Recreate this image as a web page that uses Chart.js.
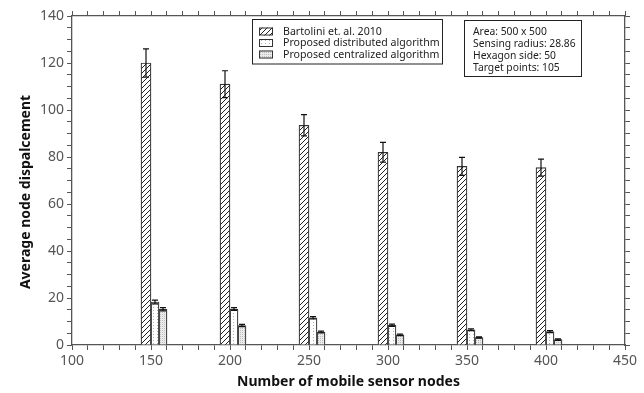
<!DOCTYPE html>
<html>
<head>
<meta charset="utf-8">
<script src="https://cdn.jsdelivr.net/npm/chart.js@4.4.1/dist/chart.umd.min.js"></script>
<style>
  html, body { margin: 0; padding: 0; background: #fff; }
  #wrap { width: 644px; height: 393px; position: relative; }
</style>
</head>
<body>
<div id="wrap"><canvas id="c"></canvas></div>
<script>
// Mean node displacement (with error half-widths) per network size
const nodeCounts = [150, 200, 250, 300, 350, 400];
const bartolini = [120, 111, 93.5, 82, 76, 75.5];
const bartoliniErr = [6, 5.7, 4.5, 4.2, 3.8, 3.6];
const distributed = [18.3, 15.3, 11.6, 8.4, 6.5, 5.7];
const distributedErr = [0.8, 0.6, 0.5, 0.5, 0.4, 0.4];
const centralized = [15.2, 8.3, 5.5, 4.3, 3.2, 2.3];
const centralizedErr = [0.7, 0.5, 0.4, 0.3, 0.3, 0.3];

const seriesNames = ['Bartolini et. al. 2010', 'Proposed distributed algorithm', 'Proposed centralized algorithm'];
const infoLines = ['Area: 500 x 500', 'Sensing radius: 28.86', 'Hexagon side: 50', 'Target points: 105'];
const xTitle = 'Number of mobile sensor nodes';
const yTitle = 'Average node dispalcement';

const FONT = '"Noto Sans", "Open Sans", sans-serif';
const AXIS_COLOR = '#555';

function makePattern(w, h, draw) {
  const c = document.createElement('canvas');
  c.width = w; c.height = h;
  const g = c.getContext('2d');
  draw(g, w, h);
  return g.createPattern(c, 'repeat');
}

// diagonal "/" hatching
const hatchFill = makePattern(5, 5, (g, w, h) => {
  g.fillStyle = '#fff'; g.fillRect(0, 0, w, h);
  g.strokeStyle = '#222'; g.lineWidth = 1;
  g.beginPath();
  g.moveTo(-1, h + 1); g.lineTo(w + 1, -1);
  g.moveTo(-1, 1); g.lineTo(1, -1);
  g.moveTo(w - 1, h + 1); g.lineTo(w + 1, h - 1);
  g.stroke();
});
// sparse dots
const sparseDots = makePattern(4, 3, (g, w, h) => {
  g.fillStyle = '#fff'; g.fillRect(0, 0, w, h);
  g.fillStyle = '#b0b0b0'; g.fillRect(1, 1, 1, 1);
});
// dense grey dots
const denseDots = makePattern(2, 2, (g, w, h) => {
  g.fillStyle = '#ececec'; g.fillRect(0, 0, w, h);
  g.fillStyle = '#bdbdbd'; g.fillRect(0, 0, 1, 1);
});

const fills = [hatchFill, sparseDots, denseDots];

function points(values) {
  return nodeCounts.map((n, i) => ({ x: n, y: values[i] }));
}

const errorBars = {
  id: 'errorBars',
  afterDatasetsDraw(chart) {
    const ctx = chart.ctx;
    const ys = chart.scales.y;
    chart.data.datasets.forEach((ds, di) => {
      if (!ds.errors) return;
      const meta = chart.getDatasetMeta(di);
      meta.data.forEach((bar, i) => {
        const v = ds.data[i].y, e = ds.errors[i];
        const top = ys.getPixelForValue(v + e);
        const bot = ys.getPixelForValue(v - e);
        const cap = 3;
        ctx.save();
        ctx.strokeStyle = '#111';
        ctx.lineWidth = 1.2;
        ctx.beginPath();
        ctx.moveTo(bar.x, top); ctx.lineTo(bar.x, bot);
        ctx.moveTo(bar.x - cap, top); ctx.lineTo(bar.x + cap, top);
        ctx.moveTo(bar.x - cap, bot); ctx.lineTo(bar.x + cap, bot);
        ctx.stroke();
        ctx.restore();
      });
    });
  }
};

const annotations = {
  id: 'annotations',
  afterDraw(chart) {
    const ctx = chart.ctx;
    const area = chart.chartArea;
    ctx.save();

    // legend box
    ctx.fillStyle = '#fff';
    ctx.fillRect(252, 19.5, 190, 44.5);
    ctx.strokeStyle = '#222';
    ctx.lineWidth = 1;
    ctx.strokeRect(252.5, 19.5, 190, 44.5);
    const rowsY = [31.5, 43, 54.5];
    ctx.font = '10.6px ' + FONT;
    ctx.textBaseline = 'middle';
    ctx.textAlign = 'left';
    seriesNames.forEach((name, i) => {
      ctx.fillStyle = fills[i];
      ctx.fillRect(259, rowsY[i] - 4, 14, 8);
      ctx.strokeStyle = '#333';
      ctx.strokeRect(259.5, rowsY[i] - 3.5, 13, 7);
      ctx.fillStyle = '#222';
      ctx.fillText(name, 283, rowsY[i]);
    });

    // parameter box
    ctx.fillStyle = '#fff';
    ctx.fillRect(464.5, 20.5, 117, 56);
    ctx.strokeStyle = '#222';
    ctx.strokeRect(464.5, 20.5, 117, 56);
    ctx.fillStyle = '#222';
    ctx.font = '10.3px ' + FONT;
    infoLines.forEach((t, i) => ctx.fillText(t, 473, 31.8 + i * 12.2));

    // axis titles
    ctx.fillStyle = '#111';
    ctx.font = 'bold 14px ' + FONT;
    ctx.textAlign = 'center';
    ctx.fillText(xTitle, (area.left + area.right) / 2, 382);
    ctx.translate(26, 192);
    ctx.rotate(-Math.PI / 2);
    ctx.fillText(yTitle, 0, 0);
    ctx.restore();
  }
};

function axis(position, min, max, step, major, showLabels, size) {
  const horizontal = position === 'top' || position === 'bottom';
  return {
    type: 'linear',
    position,
    min, max,
    offset: false,
    afterFit(s) { if (horizontal) s.height = size; else s.width = size; },
    grid: { drawOnChartArea: false, offset: false, tickLength: 5, color: AXIS_COLOR, tickColor: AXIS_COLOR },
    border: { display: true, color: AXIS_COLOR, width: 1.3 },
    ticks: {
      display: showLabels,
      stepSize: step,
      autoSkip: false,
      maxRotation: 0,
      padding: 3,
      color: AXIS_COLOR,
      font: { family: FONT, size: 14 },
      callback: v => (v % major === 0 ? String(v) : '')
    }
  };
}

new Chart(document.getElementById('c'), {
  type: 'bar',
  data: {
    datasets: [
      // empty leading slot so the groups sit to the right of each tick
      { label: 'spacer', data: nodeCounts.map(n => ({ x: n, y: null })), barThickness: 10 },
      { label: seriesNames[0], data: points(bartolini), errors: bartoliniErr, backgroundColor: hatchFill, borderColor: '#333', borderWidth: 1.2, barThickness: 10 },
      { label: seriesNames[1], data: points(distributed), errors: distributedErr, backgroundColor: sparseDots, borderColor: '#333', borderWidth: 1.2, barThickness: 8 },
      { label: seriesNames[2], data: points(centralized), errors: centralizedErr, backgroundColor: denseDots, borderColor: '#333', borderWidth: 1.2, barThickness: 8 }
    ]
  },
  options: {
    responsive: true,
    maintainAspectRatio: false,
    animation: false,
    devicePixelRatio: 1,
    layout: { padding: 0 },
    plugins: { legend: { display: false }, tooltip: { enabled: false } },
    scales: {
      x: axis('bottom', 100, 450, 10, 50, true, 48),
      x2: axis('top', 100, 450, 10, 50, false, 16),
      y: axis('left', 0, 140, 5, 20, true, 72),
      y2: axis('right', 0, 140, 5, 20, false, 19)
    }
  },
  plugins: [errorBars, annotations]
});
</script>
</body>
</html>
